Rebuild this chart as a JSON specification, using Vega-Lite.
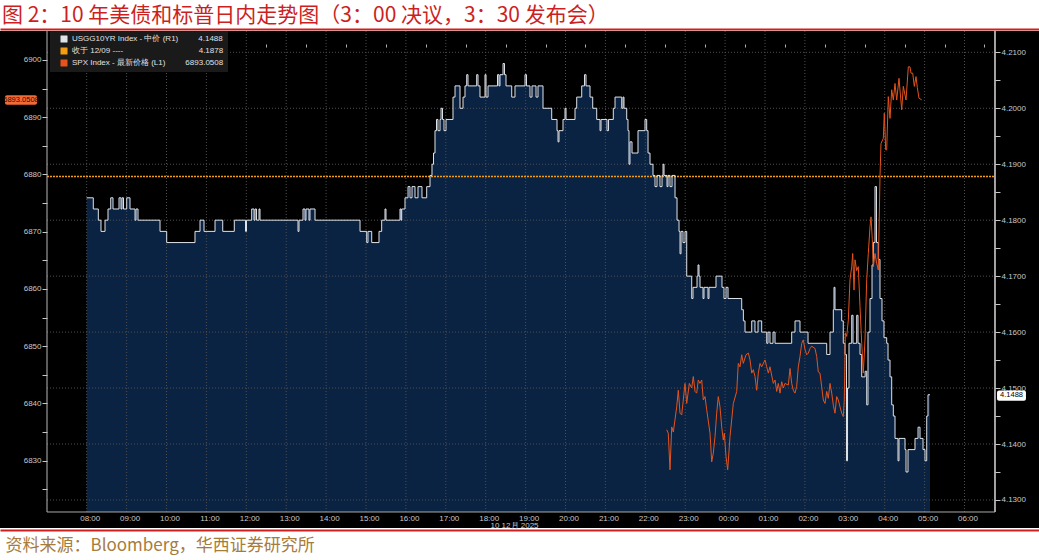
{
  "$schema": "https://vega.github.io/schema/vega-lite/v6.json",
  "width": 1039,
  "height": 497,
  "autosize": {"type": "none"},
  "padding": {"left": 0, "right": 0, "top": 31, "bottom": 32},
  "background": "#ffffff",
  "config": {"view": {"fill": "#000000", "stroke": null}, "font": "Liberation Sans"},
  "title": {
    "text": "图 2：10 年美债和标普日内走势图（3：00 决议，3：30 发布会）",
    "anchor": "start",
    "frame": "group",
    "orient": "top",
    "offset": 0,
    "baseline": "middle",
    "font": "Noto Sans CJK SC",
    "fontSize": 21,
    "fontWeight": "normal",
    "color": "#cc1f1f",
    "dx": 2,
    "dy": 7.5
  },
  "data": {"values": [{}]},
  "datasets": {
    "hours": [{"h":8},{"h":9},{"h":10},{"h":11},{"h":12},{"h":13},{"h":14},{"h":15},{"h":16},{"h":17},{"h":18},{"h":19},{"h":20},{"h":21},{"h":22},{"h":23},{"h":24},{"h":25},{"h":26},{"h":27},{"h":28},{"h":29},{"h":30}],
    "ylev": [{"v":4.13},{"v":4.14},{"v":4.15},{"v":4.16},{"v":4.17},{"v":4.18},{"v":4.19},{"v":4.20},{"v":4.21}],
    "yld": [
      {"t":8.000,"v":4.184},{"t":8.165,"v":4.182},{"t":8.291,"v":4.180},{"t":8.358,"v":4.178},{"t":8.459,"v":4.180},
      {"t":8.534,"v":4.182},{"t":8.602,"v":4.184},{"t":8.659,"v":4.182},{"t":8.810,"v":4.184},{"t":8.860,"v":4.182},
      {"t":8.885,"v":4.184},{"t":8.922,"v":4.182},{"t":9.003,"v":4.184},{"t":9.085,"v":4.182},{"t":9.211,"v":4.180},
      {"t":9.236,"v":4.182},{"t":9.286,"v":4.180},{"t":9.837,"v":4.178},{"t":10.005,"v":4.176},{"t":10.714,"v":4.178},
      {"t":10.840,"v":4.180},{"t":10.940,"v":4.178},{"t":11.216,"v":4.180},{"t":11.409,"v":4.178},{"t":11.699,"v":4.180},
      {"t":11.980,"v":4.178},{"t":12.005,"v":4.180},{"t":12.135,"v":4.182},{"t":12.193,"v":4.180},{"t":12.218,"v":4.182},
      {"t":12.256,"v":4.180},{"t":12.318,"v":4.182},{"t":12.343,"v":4.180},{"t":13.296,"v":4.178},{"t":13.321,"v":4.180},
      {"t":13.421,"v":4.182},{"t":13.471,"v":4.180},{"t":13.496,"v":4.182},{"t":13.571,"v":4.180},{"t":13.596,"v":4.182},
      {"t":13.722,"v":4.180},{"t":14.850,"v":4.178},{"t":15.018,"v":4.176},{"t":15.050,"v":4.178},{"t":15.143,"v":4.176},
      {"t":15.326,"v":4.178},{"t":15.393,"v":4.180},{"t":15.476,"v":4.182},{"t":15.501,"v":4.180},{"t":15.852,"v":4.182},
      {"t":15.877,"v":4.180},{"t":15.895,"v":4.182},{"t":15.977,"v":4.184},{"t":16.053,"v":4.186},{"t":16.103,"v":4.184},
      {"t":16.153,"v":4.186},{"t":16.228,"v":4.184},{"t":16.303,"v":4.186},{"t":16.403,"v":4.184},{"t":16.521,"v":4.186},
      {"t":16.604,"v":4.188},{"t":16.654,"v":4.190},{"t":16.692,"v":4.192},{"t":16.729,"v":4.196},{"t":16.767,"v":4.198},
      {"t":16.804,"v":4.196},{"t":16.855,"v":4.198},{"t":16.880,"v":4.200},{"t":16.917,"v":4.198},{"t":16.955,"v":4.196},
      {"t":17.005,"v":4.198},{"t":17.180,"v":4.202},{"t":17.231,"v":4.204},{"t":17.356,"v":4.200},{"t":17.431,"v":4.202},
      {"t":17.481,"v":4.204},{"t":17.524,"v":4.206},{"t":17.556,"v":4.204},{"t":17.774,"v":4.206},{"t":17.807,"v":4.204},
      {"t":17.857,"v":4.202},{"t":17.982,"v":4.206},{"t":18.008,"v":4.202},{"t":18.058,"v":4.204},{"t":18.296,"v":4.206},
      {"t":18.333,"v":4.204},{"t":18.358,"v":4.206},{"t":18.434,"v":4.208},{"t":18.471,"v":4.206},{"t":18.509,"v":4.204},
      {"t":18.652,"v":4.202},{"t":18.734,"v":4.204},{"t":18.985,"v":4.206},{"t":19.022,"v":4.204},{"t":19.110,"v":4.202},
      {"t":19.160,"v":4.204},{"t":19.261,"v":4.202},{"t":19.311,"v":4.204},{"t":19.436,"v":4.200},{"t":19.654,"v":4.198},
      {"t":19.787,"v":4.196},{"t":19.812,"v":4.194},{"t":19.837,"v":4.196},{"t":19.937,"v":4.198},{"t":19.987,"v":4.200},
      {"t":20.013,"v":4.198},{"t":20.238,"v":4.200},{"t":20.281,"v":4.202},{"t":20.406,"v":4.204},{"t":20.476,"v":4.206},
      {"t":20.514,"v":4.204},{"t":20.614,"v":4.202},{"t":20.682,"v":4.200},{"t":20.782,"v":4.198},{"t":20.865,"v":4.196},
      {"t":20.890,"v":4.198},{"t":21.040,"v":4.196},{"t":21.078,"v":4.198},{"t":21.198,"v":4.200},{"t":21.241,"v":4.202},
      {"t":21.409,"v":4.200},{"t":21.441,"v":4.202},{"t":21.466,"v":4.200},{"t":21.534,"v":4.198},{"t":21.566,"v":4.196},
      {"t":21.591,"v":4.190},{"t":21.616,"v":4.194},{"t":21.667,"v":4.192},{"t":21.817,"v":4.196},{"t":21.992,"v":4.198},
      {"t":22.035,"v":4.196},{"t":22.068,"v":4.192},{"t":22.118,"v":4.190},{"t":22.193,"v":4.188},{"t":22.243,"v":4.186},
      {"t":22.293,"v":4.188},{"t":22.368,"v":4.186},{"t":22.419,"v":4.188},{"t":22.444,"v":4.190},{"t":22.469,"v":4.188},
      {"t":22.544,"v":4.186},{"t":22.569,"v":4.188},{"t":22.619,"v":4.186},{"t":22.669,"v":4.188},{"t":22.745,"v":4.184},
      {"t":22.795,"v":4.180},{"t":22.845,"v":4.178},{"t":22.870,"v":4.174},{"t":22.895,"v":4.178},{"t":22.945,"v":4.176},
      {"t":22.995,"v":4.178},{"t":23.038,"v":4.170},{"t":23.163,"v":4.166},{"t":23.195,"v":4.168},{"t":23.296,"v":4.170},
      {"t":23.321,"v":4.172},{"t":23.346,"v":4.170},{"t":23.371,"v":4.168},{"t":23.446,"v":4.166},{"t":23.471,"v":4.168},
      {"t":23.571,"v":4.166},{"t":23.596,"v":4.168},{"t":23.772,"v":4.170},{"t":23.922,"v":4.168},{"t":23.972,"v":4.166},
      {"t":24.023,"v":4.168},{"t":24.073,"v":4.166},{"t":24.416,"v":4.164},{"t":24.458,"v":4.162},{"t":24.499,"v":4.160},
      {"t":24.667,"v":4.162},{"t":24.749,"v":4.160},{"t":24.825,"v":4.162},{"t":24.917,"v":4.160},{"t":25.043,"v":4.158},
      {"t":25.075,"v":4.160},{"t":25.125,"v":4.158},{"t":25.201,"v":4.160},{"t":25.251,"v":4.158},{"t":25.669,"v":4.160},
      {"t":25.752,"v":4.162},{"t":25.877,"v":4.160},{"t":26.078,"v":4.158},{"t":26.546,"v":4.156},{"t":26.629,"v":4.160},
      {"t":26.712,"v":4.164},{"t":26.729,"v":4.168},{"t":26.754,"v":4.164},{"t":26.922,"v":4.162},{"t":26.962,"v":4.158},
      {"t":27.005,"v":4.156},{"t":27.043,"v":4.137},{"t":27.068,"v":4.150},{"t":27.105,"v":4.158},{"t":27.173,"v":4.163},
      {"t":27.206,"v":4.158},{"t":27.298,"v":4.163},{"t":27.331,"v":4.158},{"t":27.381,"v":4.156},{"t":27.424,"v":4.152},
      {"t":27.509,"v":4.153},{"t":27.549,"v":4.147},{"t":27.581,"v":4.160},{"t":27.632,"v":4.166},{"t":27.682,"v":4.172},
      {"t":27.714,"v":4.176},{"t":27.757,"v":4.186},{"t":27.794,"v":4.176},{"t":27.840,"v":4.173},{"t":27.882,"v":4.166},
      {"t":27.932,"v":4.162},{"t":27.982,"v":4.159},{"t":28.050,"v":4.158},{"t":28.083,"v":4.155},{"t":28.133,"v":4.152},
      {"t":28.175,"v":4.147},{"t":28.216,"v":4.145},{"t":28.258,"v":4.141},{"t":28.333,"v":4.137},{"t":28.358,"v":4.141},
      {"t":28.509,"v":4.139},{"t":28.534,"v":4.135},{"t":28.584,"v":4.139},{"t":28.759,"v":4.141},{"t":28.835,"v":4.143},
      {"t":28.885,"v":4.141},{"t":28.960,"v":4.139},{"t":29.010,"v":4.137},{"t":29.053,"v":4.145},{"t":29.085,"v":4.1488},
      {"t":29.135,"v":4.1488}
    ],
    "spx": [
      {"t":22.536,"v":6835.4},{"t":22.576,"v":6834.8},{"t":22.619,"v":6828.4},{"t":22.662,"v":6835.9},{"t":22.702,"v":6835.0},
      {"t":22.787,"v":6839.4},{"t":22.827,"v":6842.3},{"t":22.870,"v":6838.3},{"t":22.912,"v":6838.0},{"t":22.952,"v":6840.6},
      {"t":22.995,"v":6843.5},{"t":23.038,"v":6840.0},{"t":23.103,"v":6843.5},{"t":23.163,"v":6842.7},{"t":23.203,"v":6844.7},
      {"t":23.246,"v":6842.1},{"t":23.288,"v":6841.8},{"t":23.328,"v":6844.1},{"t":23.371,"v":6843.5},{"t":23.414,"v":6844.1},
      {"t":23.454,"v":6840.6},{"t":23.496,"v":6841.2},{"t":23.539,"v":6838.9},{"t":23.622,"v":6834.8},{"t":23.664,"v":6829.8},
      {"t":23.704,"v":6831.3},{"t":23.747,"v":6834.2},{"t":23.789,"v":6838.3},{"t":23.829,"v":6841.2},{"t":23.872,"v":6839.4},
      {"t":23.915,"v":6835.9},{"t":23.955,"v":6833.6},{"t":23.980,"v":6834.8},{"t":24.023,"v":6830.7},{"t":24.065,"v":6828.4},
      {"t":24.123,"v":6834.2},{"t":24.206,"v":6840.0},{"t":24.291,"v":6842.1},{"t":24.331,"v":6847.0},{"t":24.373,"v":6846.4},
      {"t":24.416,"v":6848.5},{"t":24.456,"v":6847.0},{"t":24.524,"v":6848.5},{"t":24.582,"v":6848.8},{"t":24.624,"v":6847.6},
      {"t":24.667,"v":6845.3},{"t":24.707,"v":6845.9},{"t":24.749,"v":6844.7},{"t":24.792,"v":6842.3},{"t":24.832,"v":6845.3},
      {"t":24.875,"v":6847.0},{"t":24.917,"v":6846.4},{"t":25.000,"v":6847.6},{"t":25.043,"v":6846.4},{"t":25.083,"v":6845.3},
      {"t":25.125,"v":6846.4},{"t":25.208,"v":6843.5},{"t":25.251,"v":6844.1},{"t":25.293,"v":6842.1},{"t":25.333,"v":6843.5},
      {"t":25.376,"v":6841.8},{"t":25.419,"v":6843.8},{"t":25.459,"v":6842.7},{"t":25.501,"v":6843.5},{"t":25.584,"v":6843.2},
      {"t":25.627,"v":6846.1},{"t":25.669,"v":6843.5},{"t":25.709,"v":6842.3},{"t":25.752,"v":6841.8},{"t":25.794,"v":6843.0},
      {"t":25.835,"v":6846.4},{"t":25.877,"v":6848.2},{"t":25.920,"v":6850.5},{"t":25.960,"v":6851.1},{"t":26.003,"v":6849.4},
      {"t":26.045,"v":6848.5},{"t":26.085,"v":6848.8},{"t":26.128,"v":6849.6},{"t":26.170,"v":6850.0},{"t":26.253,"v":6849.6},
      {"t":26.296,"v":6848.2},{"t":26.336,"v":6845.5},{"t":26.378,"v":6845.3},{"t":26.421,"v":6842.9},{"t":26.461,"v":6840.6},
      {"t":26.504,"v":6840.0},{"t":26.546,"v":6842.1},{"t":26.586,"v":6840.9},{"t":26.629,"v":6843.5},{"t":26.672,"v":6841.8},
      {"t":26.712,"v":6839.7},{"t":26.754,"v":6838.3},{"t":26.797,"v":6841.2},{"t":26.837,"v":6840.6},{"t":26.880,"v":6839.4},
      {"t":26.922,"v":6838.3},{"t":26.962,"v":6837.7},{"t":26.987,"v":6840.6},{"t":27.013,"v":6852.3},{"t":27.048,"v":6851.7},
      {"t":27.088,"v":6854.6},{"t":27.130,"v":6861.6},{"t":27.173,"v":6863.9},{"t":27.198,"v":6866.2},{"t":27.231,"v":6859.8},
      {"t":27.256,"v":6865.1},{"t":27.298,"v":6863.2},{"t":27.338,"v":6863.9},{"t":27.381,"v":6856.9},{"t":27.424,"v":6850.5},
      {"t":27.464,"v":6845.3},{"t":27.506,"v":6851.1},{"t":27.549,"v":6861.6},{"t":27.589,"v":6866.2},{"t":27.632,"v":6870.9},
      {"t":27.657,"v":6872.6},{"t":27.689,"v":6868.6},{"t":27.714,"v":6863.9},{"t":27.757,"v":6866.2},{"t":27.799,"v":6864.5},
      {"t":27.840,"v":6863.3},{"t":27.882,"v":6879.6},{"t":27.907,"v":6885.4},{"t":27.965,"v":6886.3},{"t":27.990,"v":6890.7},
      {"t":28.025,"v":6884.3},{"t":28.050,"v":6884.3},{"t":28.090,"v":6893.6},{"t":28.133,"v":6889.8},{"t":28.175,"v":6894.8},
      {"t":28.216,"v":6893.0},{"t":28.258,"v":6895.9},{"t":28.301,"v":6893.0},{"t":28.358,"v":6896.8},{"t":28.426,"v":6891.3},
      {"t":28.466,"v":6895.4},{"t":28.534,"v":6893.0},{"t":28.592,"v":6898.8},{"t":28.634,"v":6898.8},{"t":28.659,"v":6897.7},
      {"t":28.702,"v":6897.7},{"t":28.742,"v":6895.4},{"t":28.784,"v":6897.1},{"t":28.817,"v":6895.2},{"t":28.860,"v":6893.3},
      {"t":28.927,"v":6893.05}
    ]
  },
  "layer": [
    {
      "data": {"name": "yld"},
      "mark": {"type": "area", "interpolate": "step-after", "color": "#0b2342"},
      "encoding": {
        "x": {"field": "t", "type": "quantitative", "scale": {"domain": [5.827, 31.867], "nice": false, "zero": false},
          "axis": {"values": [8,9,10,11,12,13,14,15,16,17,18,19,20,21,22,23,24,25,26,27,28,29,30],
            "labelExpr": "(datum.value % 24 < 10 ? '0' : '') + (datum.value % 24) + ':00'",
            "offset": -16, "domain": false, "ticks": false, "tickSize": 0, "grid": false,
            "labelColor": "#c8c8c8", "labelFont": "Liberation Sans", "labelFontSize": 8, "labelPadding": 2, "labelOffset": 3,
            "labelOverlap": false, "labelFlush": false,
            "title": "10 12月 2025", "titleColor": "#c8c8c8", "titleFont": "Liberation Sans", "titleFontSize": 8,
            "titleFontWeight": "normal", "titleX": 514, "titleY": 13, "titleBaseline": "middle", "titleAlign": "center"}},
        "y": {"field": "v", "type": "quantitative", "scale": {"domain": [4.12499, 4.21381], "nice": false, "zero": false}, "axis": null},
        "y2": {"datum": 4.12785}
      }
    },
    {
      "data": {"name": "hours"},
      "mark": {"type": "rule", "color": "#4e4e4e", "strokeDash": [1, 2], "strokeWidth": 1},
      "encoding": {
        "x": {"field": "h", "type": "quantitative", "scale": {"domain": [5.827, 31.867], "nice": false, "zero": false},
          "axis": {"values": [7.5,8.5,9.5,10.5,11.5,12.5,13.5,14.5,15.5,16.5,17.5,18.5,19.5,20.5,21.5,22.5,23.5,24.5,25.5,26.5,27.5,28.5,29.5,30.5],
            "labels": false, "ticks": true, "tickSize": 3, "tickColor": "#b0b0b0", "domain": false, "grid": false, "title": null, "offset": -16}},
        "y": {"datum": 4.21381, "type": "quantitative", "scale": {"domain": [4.12499, 4.21381], "nice": false, "zero": false}, "axis": null},
        "y2": {"datum": 4.12785}
      }
    },
    {
      "data": {"name": "ylev"},
      "mark": {"type": "rule", "color": "#4e4e4e", "strokeDash": [1, 2], "strokeWidth": 1},
      "encoding": {
        "x": {"datum": 7.005, "type": "quantitative", "scale": {"domain": [5.827, 31.867], "nice": false, "zero": false}, "axis": null},
        "x2": {"datum": 30.764},
        "y": {"field": "v", "type": "quantitative", "scale": {"domain": [4.12499, 4.21381], "nice": false, "zero": false}, "axis": null}
      }
    },
    {
      "mark": {"type": "rule", "strokeDash": [2, 1], "strokeWidth": 1.5},
      "encoding": {
        "x": {"datum": 7.005, "type": "quantitative", "scale": {"domain": [5.827, 31.867], "nice": false, "zero": false}, "axis": null},
        "x2": {"datum": 30.764},
        "y": {"datum": 4.1878, "type": "quantitative", "scale": {"domain": [4.12499, 4.21381], "nice": false, "zero": false}, "axis": null},
        "color": {"datum": "收于 12/09 ----\u00a0\u00a0\u00a0\u00a0\u00a0\u00a0\u00a0\u00a0\u00a0\u00a0\u00a0\u00a0\u00a0\u00a0\u00a0\u00a0\u00a0\u00a0\u00a0\u00a0\u00a0\u00a0\u00a0\u00a0\u00a0\u00a0\u00a0\u00a0\u00a0\u00a0\u00a0\u00a0\u00a0\u00a04.1878", "type": "nominal"}
      }
    },
    {
      "data": {"name": "yld"},
      "mark": {"type": "line", "interpolate": "step-after", "strokeWidth": 1},
      "encoding": {
        "x": {"field": "t", "type": "quantitative", "scale": {"domain": [5.827, 31.867], "nice": false, "zero": false}, "axis": null},
        "y": {"field": "v", "type": "quantitative", "scale": {"domain": [4.12499, 4.21381], "nice": false, "zero": false},
          "axis": {"orient": "right", "offset": -44,
            "values": [4.13,4.135,4.14,4.145,4.15,4.155,4.16,4.165,4.17,4.175,4.18,4.185,4.19,4.195,4.2,4.205,4.21],
            "labelExpr": "round(datum.value*1000) % 10 == 0 ? format(datum.value, '.4f') : ''",
            "domain": false, "grid": false, "ticks": true, "tickSize": 5, "tickColor": "#c8c8c8",
            "labelColor": "#c8c8c8", "labelFont": "Liberation Sans", "labelFontSize": 8, "labelPadding": 1,
            "labelOverlap": false, "labelFlush": false, "title": null}},
        "color": {"datum": "USGG10YR Index - 中价 (R1)\u00a0\u00a0\u00a0\u00a0\u00a0\u00a0\u00a0\u00a0\u00a04.1488", "type": "nominal",
          "scale": {
            "domain": [
              "USGG10YR Index - 中价 (R1)\u00a0\u00a0\u00a0\u00a0\u00a0\u00a0\u00a0\u00a0\u00a04.1488",
              "收于 12/09 ----\u00a0\u00a0\u00a0\u00a0\u00a0\u00a0\u00a0\u00a0\u00a0\u00a0\u00a0\u00a0\u00a0\u00a0\u00a0\u00a0\u00a0\u00a0\u00a0\u00a0\u00a0\u00a0\u00a0\u00a0\u00a0\u00a0\u00a0\u00a0\u00a0\u00a0\u00a0\u00a0\u00a0\u00a04.1878",
              "SPX Index - 最新价格 (L1)\u00a0\u00a0\u00a0\u00a0\u00a0\u00a0\u00a0\u00a0\u00a06893.0508"
            ],
            "range": ["#dfe3ea", "#f29d12", "#e4541c"]
          },
          "legend": {"title": null, "orient": "none", "legendX": 50, "legendY": 0, "direction": "vertical",
            "symbolType": "square", "symbolSize": 42, "symbolOffset": 6,
            "labelFont": "Liberation Sans", "labelFontSize": 8, "labelColor": "#e0e0e0", "labelOffset": 4, "labelLimit": 400,
            "rowPadding": 2, "padding": 4, "fillColor": "#1a1a1a", "strokeColor": null, "zindex": 1,
            "encode": {"symbols": {"update": {"fill": {"scale": "color", "field": "value"}, "fillOpacity": {"value": 1},
              "stroke": {"value": "#888888"}, "strokeWidth": {"value": 0.5}, "strokeDash": {"value": []}, "opacity": {"value": 1}}}}}
        }
      }
    },
    {
      "data": {"name": "spx"},
      "mark": {"type": "line", "strokeWidth": 1},
      "encoding": {
        "x": {"field": "t", "type": "quantitative", "scale": {"domain": [5.827, 31.867], "nice": false, "zero": false}, "axis": null},
        "y": {"field": "v", "type": "quantitative", "scale": {"domain": [6818.24, 6905.066], "nice": false, "zero": false},
          "axis": {"orient": "left", "offset": -47,
            "values": [6825,6830,6835,6840,6845,6850,6855,6860,6865,6870,6875,6880,6885,6890,6895,6900],
            "labelExpr": "datum.value % 10 == 0 ? format(datum.value, 'd') : ''",
            "domain": false, "grid": false, "ticks": true, "tickSize": 5, "tickColor": "#c8c8c8",
            "labelColor": "#c8c8c8", "labelFont": "Liberation Sans", "labelFontSize": 8, "labelPadding": 1,
            "labelOverlap": false, "labelFlush": false, "title": null}},
        "color": {"datum": "SPX Index - 最新价格 (L1)\u00a0\u00a0\u00a0\u00a0\u00a0\u00a0\u00a0\u00a0\u00a06893.0508", "type": "nominal"}
      }
    },
    {
      "mark": {"type": "rule", "color": "#b8b8b8", "strokeWidth": 1},
      "encoding": {
        "x": {"datum": 7.005, "type": "quantitative", "scale": {"domain": [5.827, 31.867], "nice": false, "zero": false},
          "axis": {"orient": "top", "offset": 2, "domainColor": "#cc1f1f", "domainWidth": 2, "labels": false, "ticks": false, "grid": false, "title": null}},
        "y": {"datum": 4.21381, "type": "quantitative", "scale": {"domain": [4.12499, 4.21381], "nice": false, "zero": false}, "axis": null},
        "y2": {"datum": 4.12785}
      }
    },
    {
      "mark": {"type": "rule", "color": "#d8d8d8", "strokeWidth": 1.5},
      "encoding": {
        "x": {"datum": 30.764, "type": "quantitative", "scale": {"domain": [5.827, 31.867], "nice": false, "zero": false},
          "axis": {"orient": "bottom", "offset": 2, "domainColor": "#cc1f1f", "domainWidth": 2, "labels": false, "ticks": false, "grid": false,
            "title": "资料来源：Bloomberg，华西证券研究所", "titleFont": "Noto Sans CJK SC", "titleFontSize": 17, "titleFontWeight": "normal",
            "titleColor": "#a67c3d", "titleAlign": "left", "titleBaseline": "middle", "titleAnchor": "start", "titleX": 5, "titleY": 15}},
        "y": {"datum": 4.21381, "type": "quantitative", "scale": {"domain": [4.12499, 4.21381], "nice": false, "zero": false}, "axis": null},
        "y2": {"datum": 4.12785}
      }
    },
    {
      "mark": {"type": "rule", "color": "#a8a8a8", "strokeWidth": 1},
      "encoding": {
        "x": {"datum": 7.005, "type": "quantitative", "scale": {"domain": [5.827, 31.867], "nice": false, "zero": false}, "axis": null},
        "x2": {"datum": 30.764},
        "y": {"datum": 4.12785, "type": "quantitative", "scale": {"domain": [4.12499, 4.21381], "nice": false, "zero": false}, "axis": null}
      }
    },
    {
      "mark": {"type": "rect", "color": "#f26a35", "cornerRadius": 2},
      "encoding": {
        "x": {"datum": 5.952, "type": "quantitative", "scale": {"domain": [5.827, 31.867], "nice": false, "zero": false}, "axis": null},
        "x2": {"datum": 6.754},
        "y": {"datum": 6893.85, "type": "quantitative", "scale": {"domain": [6818.24, 6905.066], "nice": false, "zero": false}, "axis": null},
        "y2": {"datum": 6892.2}
      }
    },
    {
      "mark": {"type": "text", "color": "#2a0a00", "fontSize": 7.5, "font": "Liberation Sans", "align": "center", "baseline": "middle"},
      "encoding": {
        "x": {"datum": 6.353, "type": "quantitative", "scale": {"domain": [5.827, 31.867], "nice": false, "zero": false}, "axis": null},
        "y": {"datum": 6893.05, "type": "quantitative", "scale": {"domain": [6818.24, 6905.066], "nice": false, "zero": false}, "axis": null},
        "text": {"value": "6893.0508"}
      }
    },
    {
      "mark": {"type": "rect", "color": "#ffffff", "cornerRadius": 2},
      "encoding": {
        "x": {"datum": 30.815, "type": "quantitative", "scale": {"domain": [5.827, 31.867], "nice": false, "zero": false}, "axis": null},
        "x2": {"datum": 31.54},
        "y": {"datum": 4.14955, "type": "quantitative", "scale": {"domain": [4.12499, 4.21381], "nice": false, "zero": false}, "axis": null},
        "y2": {"datum": 4.14775}
      }
    },
    {
      "mark": {"type": "text", "color": "#000000", "fontSize": 7.5, "font": "Liberation Sans", "align": "center", "baseline": "middle"},
      "encoding": {
        "x": {"datum": 31.178, "type": "quantitative", "scale": {"domain": [5.827, 31.867], "nice": false, "zero": false}, "axis": null},
        "y": {"datum": 4.1487, "type": "quantitative", "scale": {"domain": [4.12499, 4.21381], "nice": false, "zero": false}, "axis": null},
        "text": {"value": "4.1488"}
      }
    }
  ],
  "resolve": {"scale": {"y": "independent"}, "axis": {"x": "independent", "y": "independent"}}
}
